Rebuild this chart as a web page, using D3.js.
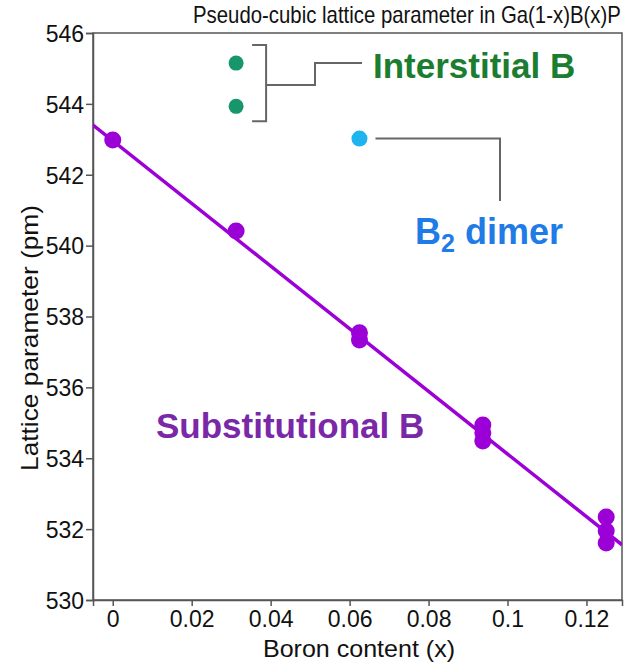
<!DOCTYPE html>
<html>
<head>
<meta charset="utf-8">
<script src="https://cdn.jsdelivr.net/npm/d3@7"></script>
<style>
body{margin:0;background:#fff}
text{font-family:"Liberation Sans",Arial,Helvetica,sans-serif}
</style>
</head>
<body>
<div id="chart"></div>
<script>
// values
const subX=[0,0.03125,0.0625,0.0625,0.09375,0.09375,0.09375,0.125,0.125,0.125]
const subY=[542.98,540.41,537.54,537.34,534.94,534.72,534.49,532.34,531.95,531.61]
const interX=[0.03125,0.03125]
const interY=[545.15,543.93]
const dimerX=[0.0625]
const dimerY=[543.02]
const fitIntercept=542.96
const fitSlope=-88.4
const xTicks=[0,0.02,0.04,0.06,0.08,0.1,0.12]
const yTicks=[530,532,534,536,538,540,542,544,546]

const width=626
const height=667
const m={left:93,right:4,top:33,bottom:67}

const svg=d3.select("#chart")
.append("svg")
.attr("width",width)
.attr("height",height)

const x=d3.scaleLinear().domain([-0.005,0.129]).range([m.left,width-m.right])
const y=d3.scaleLinear().domain([530,546]).range([height-m.bottom,m.top])

svg.append("defs").append("clipPath").attr("id","clip")
.append("rect")
.attr("x",m.left).attr("y",m.top)
.attr("width",width-m.left-m.right).attr("height",height-m.top-m.bottom)

// frame
svg.append("rect")
.attr("x",m.left).attr("y",m.top)
.attr("width",width-m.left-m.right).attr("height",height-m.top-m.bottom)
.attr("fill","none").attr("stroke","#555").attr("stroke-width",1.5)

const xAxis=svg.append("g")
.attr("transform","translate(0,"+(height-m.bottom)+")")
.call(d3.axisBottom(x).tickValues(xTicks).tickSize(6).tickPadding(5).tickFormat(d=>d3.format("")(+d.toFixed(2))))
const yAxis=svg.append("g")
.attr("transform","translate("+m.left+",0)")
.call(d3.axisLeft(y).tickValues(yTicks).tickSize(7).tickPadding(2))

;[xAxis,yAxis].forEach(a=>{
a.select(".domain").attr("stroke","#555").attr("stroke-width",1.5)
a.selectAll(".tick line").attr("stroke","#555").attr("stroke-width",1.5)
a.selectAll(".tick text").attr("fill","#111").style("font-size","23px").attr("font-family",null)
})
yAxis.selectAll(".tick text").attr("dy","0.36em")

// title: condensed to fit like the original
const title=svg.append("g")
const tt=title.append("text")
.style("font-size","23px").attr("fill","#111")
.text("Pseudo-cubic lattice parameter in Ga(1-x)B(x)P")
const sx=428/tt.node().getComputedTextLength()
title.attr("transform","translate(193,23) scale("+sx+",1)")

svg.append("text")
.attr("x",263).attr("y",657)
.attr("textLength",192).attr("lengthAdjust","spacingAndGlyphs")
.style("font-size","24px").attr("fill","#111")
.text("Boron content (x)")

svg.append("text")
.attr("transform","translate(38,471) rotate(-90)")
.attr("textLength",266).attr("lengthAdjust","spacingAndGlyphs")
.style("font-size","24px").attr("fill","#111")
.text("Lattice parameter (pm)")

// fit line
const plot=svg.append("g").attr("clip-path","url(#clip)")
const fitX=x.domain()
plot.append("path")
.datum(fitX.map(v=>[v,fitIntercept+fitSlope*v]))
.attr("d",d3.line().x(d=>x(d[0])).y(d=>y(d[1])))
.attr("fill","none").attr("stroke","#9b00d6").attr("stroke-width",3.5)

plot.selectAll(".sub")
.data(subX.map((v,i)=>[v,subY[i]]))
.enter().append("circle")
.attr("cx",d=>x(d[0])).attr("cy",d=>y(d[1])).attr("r",8.5)
.attr("fill","#9b00d6")

plot.selectAll(".inter")
.data(interX.map((v,i)=>[v,interY[i]]))
.enter().append("circle")
.attr("cx",d=>x(d[0])).attr("cy",d=>y(d[1])).attr("r",7.5)
.attr("fill","#16966a")

plot.selectAll(".dimer")
.data(dimerX.map((v,i)=>[v,dimerY[i]]))
.enter().append("circle")
.attr("cx",d=>x(d[0])).attr("cy",d=>y(d[1])).attr("r",8)
.attr("fill","#1fb4ee")

// annotations
const ann=svg.append("g").attr("fill","none").attr("stroke","#666").attr("stroke-width",2)
const bx=x(interX[0])
const bTop=y(interY[0])-18, bBot=y(interY[1])+15
ann.append("path").attr("d","M"+(bx+16)+","+bTop+"H"+(bx+30)+"V"+bBot+"H"+(bx+16))
ann.append("path").attr("d","M"+(bx+30)+","+85+"H315V63H362")
const dx=x(dimerX[0]), dy=y(dimerY[0])
ann.append("path").attr("d","M"+(dx+16)+","+dy+"H500V201")

svg.append("text")
.attr("x",373).attr("y",78)
.style("font-size","35px").style("font-weight","bold").attr("fill","#1b7d30")
.text("Interstitial B")

const b2=svg.append("text")
.attr("x",415).attr("y",244)
.style("font-size","36px").style("font-weight","bold").attr("fill","#1f7be6")
b2.append("tspan").text("B")
b2.append("tspan").attr("dy",8).style("font-size","25px").text("2")
b2.append("tspan").attr("dy",-8).text(" dimer")

svg.append("text")
.attr("x",156).attr("y",438)
.style("font-size","35px").style("font-weight","bold").attr("fill","#7a28a8")
.text("Substitutional B")
</script>
</body>
</html>
